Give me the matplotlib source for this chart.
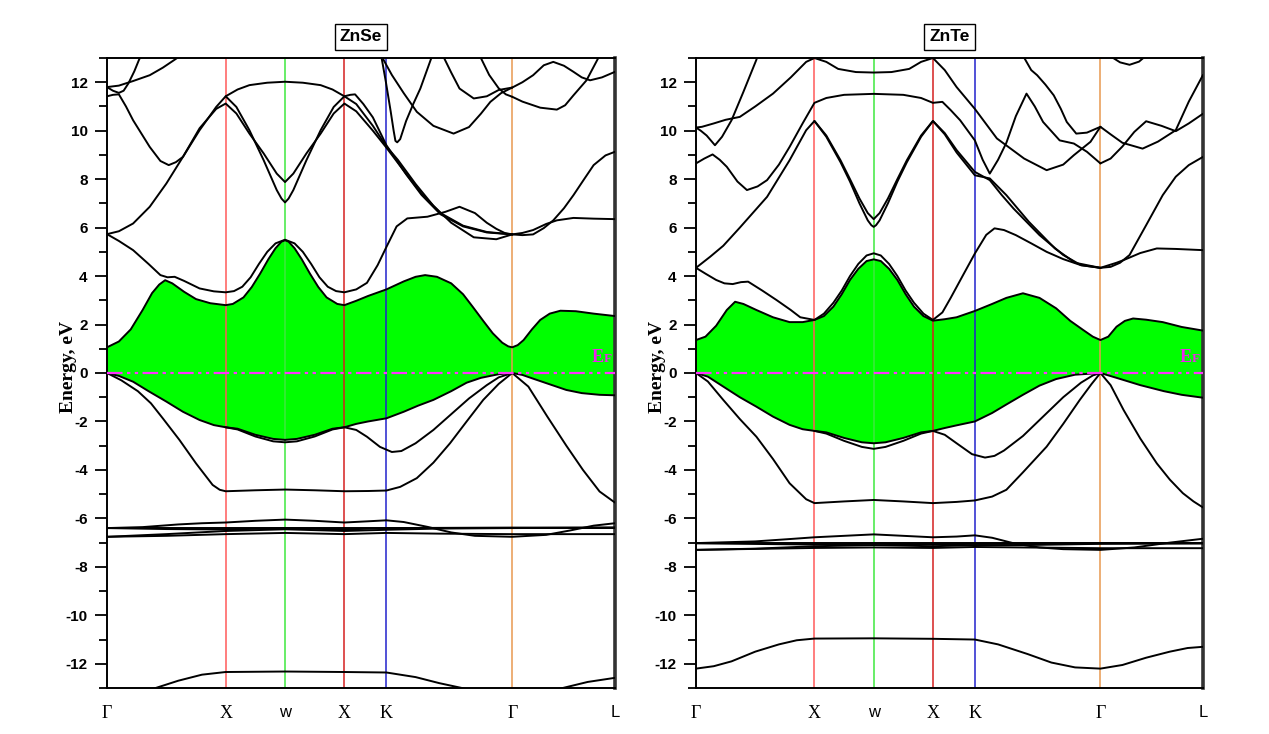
import numpy as np
import matplotlib
matplotlib.use("Agg")
import matplotlib.pyplot as plt

plt.rcParams["axes.unicode_minus"] = False

# ---------------- high-symmetry path ----------------
K_POS = [0.0, 1.0, 1.5, 2.0, 2.354, 3.414, 4.28]
K_LABELS = ["\u0393", "X", "w", "X", "K", "\u0393", "L"]
K_LABEL_FONT = ["Liberation Serif", "Liberation Serif", "Liberation Sans", "Liberation Serif",
                "Liberation Serif", "Liberation Serif", "Liberation Sans"]
VLINE_COLORS = ["#ff5a5a", "#3ee83e", "#d42020", "#2222cc", "#e89850"]  # X, W, X, K, Gamma
Y_TICKS = [-12, -10, -8, -6, -4, -2, 0, 2, 4, 6, 8, 10, 12]

# ---------------- ZnSe bands (k, E) ----------------
SE_VB1 = [(0,0),(0.1,-0.12),(0.22,-0.36),(0.35,-0.75),(0.5,-1.18),(0.64,-1.6),(0.78,-1.94),(0.9,-2.15),(1.0,-2.24),
          (1.1,-2.3),(1.25,-2.55),(1.4,-2.72),(1.5,-2.76),(1.6,-2.72),(1.75,-2.55),(1.9,-2.3),(2.0,-2.24),(2.1,-2.1),
          (2.2,-2.0),(2.354,-1.87),(2.5,-1.6),(2.62,-1.35),(2.75,-1.11),(2.9,-0.75),(3.03,-0.4),(3.15,-0.2),(3.3,-0.05),
          (3.414,0),(3.5,-0.08),(3.6,-0.25),(3.75,-0.5),(3.87,-0.7),(4.0,-0.83),(4.15,-0.9),(4.28,-0.92)]
SE_VB2 = [(1.0,-2.24),(1.1,-2.33),(1.25,-2.62),(1.4,-2.82),(1.5,-2.86),(1.6,-2.82),(1.75,-2.62),(1.9,-2.33),(2.0,-2.24),
          (2.1,-2.35),(2.19,-2.63),(2.3,-3.05),(2.4,-3.26),(2.48,-3.22),(2.6,-2.9),(2.75,-2.35),(2.9,-1.7),(3.05,-1.05),
          (3.2,-0.5),(3.3,-0.18),(3.414,0)]
SE_VB3 = [(0,0),(0.12,-0.3),(0.26,-0.75),(0.37,-1.25),(0.47,-1.87),(0.61,-2.76),(0.75,-3.73),(0.89,-4.62),(0.95,-4.82),
          (1.0,-4.88),(1.25,-4.84),(1.5,-4.81),(1.75,-4.84),(2.0,-4.88),(2.2,-4.87),(2.354,-4.85),(2.47,-4.7),(2.61,-4.34),
          (2.75,-3.7),(2.89,-2.9),(3.03,-2.0),(3.17,-1.11),(3.3,-0.45),(3.414,0),(3.55,-0.56),(3.71,-1.8),(3.87,-3.0),
          (4.01,-4.0),(4.15,-4.89),(4.28,-5.35)]
SE_CB1 = [(0,1.06),(0.1,1.3),(0.2,1.8),(0.3,2.6),(0.38,3.3),(0.44,3.65),(0.49,3.83),(0.55,3.7),(0.65,3.35),(0.75,3.05),
          (0.87,2.88),(1.0,2.8),(1.06,2.85),(1.15,3.12),(1.22,3.55),(1.29,4.1),(1.36,4.7),(1.42,5.15),(1.47,5.42),(1.5,5.48),
          (1.53,5.42),(1.58,5.15),(1.64,4.7),(1.71,4.1),(1.78,3.55),(1.85,3.12),(1.94,2.85),(2.0,2.8),(2.1,2.98),(2.2,3.18),
          (2.354,3.45),(2.5,3.78),(2.6,3.97),(2.68,4.04),(2.78,3.97),(2.9,3.7),(3.0,3.25),(3.08,2.74),(3.17,2.15),(3.25,1.64),
          (3.33,1.25),(3.38,1.1),(3.414,1.06),(3.46,1.15),(3.51,1.36),(3.58,1.8),(3.65,2.19),(3.73,2.45),(3.82,2.57),
          (3.95,2.55),(4.1,2.45),(4.28,2.35)]
SE_CB2 = [(0,5.73),(0.1,5.45),(0.22,5.07),(0.35,4.5),(0.45,4.04),(0.51,3.95),(0.57,3.97),(0.65,3.8),(0.78,3.49),(0.9,3.37),
          (1.0,3.33),(1.07,3.38),(1.14,3.56),(1.21,3.95),(1.28,4.5),(1.35,5.0),(1.42,5.35),(1.5,5.5),(1.58,5.35),(1.65,5.0),
          (1.72,4.5),(1.79,3.95),(1.86,3.56),(1.93,3.38),(2.0,3.33),(2.1,3.45),(2.19,3.72),(2.28,4.45),(2.354,5.2),(2.44,6.05),
          (2.53,6.38),(2.7,6.45),(2.85,6.65),(2.97,6.86),(3.1,6.6),(3.2,6.2),(3.28,5.95),(3.35,5.78),(3.414,5.72)]
SE_CB3 = [(3.414,5.72),(3.5,5.78),(3.59,5.9),(3.7,6.15),(3.79,6.3),(3.93,6.4),(4.1,6.37),(4.28,6.35)]
SE_CB4 = [(3.414,5.72),(3.5,5.69),(3.59,5.72),(3.68,5.98),(3.76,6.3),(3.85,6.8),(3.93,7.34),(4.02,8.0),(4.1,8.58),
          (4.2,8.98),(4.28,9.13)]
SE_G3 = [(0,5.73),(0.1,5.85),(0.22,6.17),(0.36,6.86),(0.5,7.82),(0.64,8.92),(0.78,10.1),(0.92,10.9),(1.0,11.12),
         (1.09,10.71),(1.2,9.88),(1.32,9.06),(1.43,8.23),(1.5,7.88),(1.57,8.23),(1.68,9.06),(1.8,9.88),(1.91,10.71),
         (2.0,11.12),(2.1,10.8),(2.24,10.0),(2.354,9.3),(2.5,8.35),(2.65,7.4),(2.81,6.6),(3.0,6.08),(3.2,5.82),(3.414,5.72)]
SE_G2 = [(0,11.42),(0.05,11.48),(0.1,11.5),(0.16,11.0),(0.22,10.43),(0.36,9.33),(0.45,8.75),(0.52,8.58),(0.58,8.7),
         (0.64,8.92),(0.78,10.02),(0.92,10.98),(1.0,11.42),(1.09,10.98),(1.2,10.02),(1.32,8.78),(1.43,7.55),(1.47,7.2),
         (1.5,7.04),(1.53,7.2),(1.57,7.55),(1.68,8.78),(1.8,10.02),(1.91,10.98),(2.0,11.42),(2.1,11.1),(2.24,10.2),
         (2.354,9.35),(2.45,8.8),(2.6,7.8),(2.75,6.9),(2.9,6.2),(3.09,5.6),(3.28,5.52),(3.414,5.72)]
SE_ARCH = [(1.0,11.42),(1.1,11.7),(1.2,11.88),(1.35,11.98),(1.5,12.02),(1.65,11.98),(1.8,11.88),(1.9,11.7),(2.0,11.42),
           (2.05,11.48),(2.09,11.5),(2.16,11.1),(2.24,10.55),(2.354,9.4),(2.52,8.2),(2.65,7.35),(2.81,6.55),(3.0,6.05),
           (3.2,5.8),(3.414,5.72)]
SE_G1A = [(0,11.8),(0.1,11.86),(0.22,12.05),(0.36,12.29),(0.47,12.6),(0.57,12.93),(0.62,13.1)]
SE_G1B = [(0,11.8),(0.05,11.65),(0.1,11.56),(0.14,11.65),(0.18,11.95),(0.23,12.45),(0.27,12.93),(0.3,13.2)]
SE_V = [(2.31,13.1),(2.35,12.0),(2.39,10.8),(2.415,10.0),(2.43,9.58),(2.445,9.52),(2.47,9.65),(2.52,10.4),(2.58,11.1),
        (2.64,11.74),(2.74,13.1)]
SE_U = [(2.31,13.1),(2.4,12.3),(2.5,11.55),(2.61,10.78),(2.75,10.2),(2.92,9.88),(3.05,10.15),(3.15,10.7),(3.23,11.19),
        (3.32,11.55),(3.414,11.78)]
SE_Q = [(2.83,13.1),(2.9,12.4),(2.97,11.74),(3.09,11.33),(3.2,11.42),(3.3,11.68),(3.414,11.78)]
SE_R = [(3.14,13.1),(3.22,12.3),(3.3,11.75),(3.36,11.5),(3.414,11.4)]
SE_S = [(3.414,11.78),(3.5,12.0),(3.59,12.29),(3.68,12.7),(3.76,12.84),(3.85,12.68),(3.93,12.43),(4.0,12.2),(4.07,12.08),
        (4.17,12.2),(4.28,12.43)]
SE_T = [(3.414,11.4),(3.5,11.2),(3.65,10.95),(3.79,10.87),(3.86,11.05),(3.93,11.46),(4.04,12.08),(4.15,13.1)]
SE_D1 = [(0,-6.4),(0.3,-6.36),(0.6,-6.25),(0.8,-6.2),(1.0,-6.17),(1.25,-6.1),(1.5,-6.05),(1.75,-6.1),(2.0,-6.17),
         (2.2,-6.12),(2.354,-6.08),(2.5,-6.15),(2.7,-6.35),(2.9,-6.58),(3.1,-6.72),(3.414,-6.76),(3.7,-6.68),(3.9,-6.5),
         (4.1,-6.3),(4.28,-6.2)]
SE_D2 = [(0,-6.38),(1.0,-6.38),(2.0,-6.38),(3.414,-6.38),(4.28,-6.38)]
SE_D3 = [(0,-6.76),(0.5,-6.72),(1.0,-6.65),(1.5,-6.6),(2.0,-6.65),(2.354,-6.6),(2.8,-6.63),(3.414,-6.65),(4.28,-6.65)]
SE_D4 = [(0,-6.76),(0.5,-6.65),(1.0,-6.52),(1.5,-6.45),(2.0,-6.52),(2.354,-6.47),(2.8,-6.42),(3.414,-6.4),(4.28,-6.38)]
SE_D5 = [(0,-6.4),(0.5,-6.44),(1.0,-6.46),(1.5,-6.4),(2.0,-6.46),(2.354,-6.4),(3.414,-6.38),(4.28,-6.38)]
SE_LOW = [(0,-13.6),(0.2,-13.4),(0.41,-13.0),(0.6,-12.7),(0.8,-12.45),(1.0,-12.34),(1.5,-12.32),(2.0,-12.34),
          (2.354,-12.36),(2.6,-12.55),(2.8,-12.8),(2.99,-13.0),(3.2,-13.3),(3.414,-13.4),(3.6,-13.3),(3.84,-13.0),
          (4.05,-12.75),(4.28,-12.58)]

# ---------------- ZnTe bands (k, E) ----------------
TE_VB1 = [(0,0),(0.1,-0.15),(0.23,-0.56),(0.37,-1.0),(0.51,-1.39),(0.65,-1.8),(0.79,-2.14),(0.9,-2.32),(1.0,-2.39),
          (1.1,-2.45),(1.25,-2.68),(1.4,-2.86),(1.5,-2.9),(1.6,-2.86),(1.75,-2.68),(1.9,-2.45),(2.0,-2.39),(2.1,-2.27),
          (2.2,-2.16),(2.354,-2.0),(2.5,-1.65),(2.62,-1.3),(2.76,-0.9),(2.9,-0.52),(3.04,-0.25),(3.2,-0.07),(3.414,0),
          (3.55,-0.2),(3.75,-0.5),(3.95,-0.75),(4.1,-0.9),(4.28,-1.02)]
TE_VB2 = [(1.0,-2.39),(1.1,-2.5),(1.25,-2.8),(1.4,-3.05),(1.5,-3.13),(1.6,-3.05),(1.75,-2.8),(1.9,-2.5),(2.0,-2.39),
          (2.1,-2.55),(2.2,-2.9),(2.33,-3.35),(2.44,-3.49),(2.52,-3.42),(2.6,-3.2),(2.76,-2.6),(2.93,-1.8),(3.1,-1.0),
          (3.25,-0.4),(3.35,-0.1),(3.414,0)]
TE_VB3 = [(0,0),(0.1,-0.35),(0.23,-1.11),(0.37,-1.9),(0.51,-2.63),(0.65,-3.55),(0.79,-4.55),(0.93,-5.21),(1.0,-5.37),
          (1.25,-5.3),(1.5,-5.24),(1.75,-5.3),(2.0,-5.37),(2.2,-5.32),(2.354,-5.26),(2.5,-5.1),(2.62,-4.82),(2.76,-4.1),
          (2.96,-3.04),(3.1,-2.1),(3.24,-1.11),(3.34,-0.45),(3.414,0),(3.5,-0.5),(3.61,-1.53),(3.75,-2.7),(3.89,-3.73),
          (4.0,-4.4),(4.11,-4.96),(4.2,-5.3),(4.28,-5.55)]
TE_CB1 = [(0,1.36),(0.08,1.5),(0.17,1.95),(0.26,2.6),(0.33,2.94),(0.4,2.85),(0.51,2.6),(0.65,2.3),(0.79,2.1),(0.9,2.1),
          (1.0,2.19),(1.08,2.35),(1.16,2.74),(1.23,3.25),(1.3,3.84),(1.37,4.3),(1.44,4.62),(1.5,4.69),(1.56,4.62),
          (1.63,4.3),(1.7,3.84),(1.77,3.25),(1.84,2.74),(1.92,2.35),(2.0,2.16),(2.1,2.22),(2.2,2.3),(2.354,2.56),
          (2.5,2.85),(2.62,3.1),(2.76,3.29),(2.9,3.1),(3.04,2.67),(3.16,2.15),(3.27,1.77),(3.35,1.5),(3.414,1.36),
          (3.48,1.5),(3.55,1.91),(3.62,2.15),(3.69,2.25),(3.8,2.2),(3.94,2.1),(4.1,1.9),(4.28,1.75)]
TE_CB2 = [(0,4.34),(0.08,4.1),(0.17,3.84),(0.24,3.7),(0.31,3.67),(0.38,3.75),(0.44,3.77),(0.56,3.4),(0.68,3.01),
          (0.8,2.6),(0.88,2.3),(1.0,2.19),(1.08,2.45),(1.16,2.9),(1.23,3.4),(1.3,4.0),(1.37,4.5),(1.44,4.85),(1.5,4.94),
          (1.56,4.85),(1.63,4.5),(1.7,4.0),(1.77,3.4),(1.84,2.9),(1.92,2.45),(2.0,2.19),(2.08,2.5),(2.15,3.1),(2.25,4.0),
          (2.354,4.93),(2.45,5.7),(2.52,5.97),(2.6,5.9),(2.7,5.69),(2.83,5.35),(2.96,5.0),(3.1,4.7),(3.25,4.45),(3.414,4.34)]
TE_CB3 = [(3.414,4.34),(3.5,4.38),(3.58,4.55),(3.66,4.87),(3.8,6.1),(3.94,7.34),(4.05,8.1),(4.16,8.58),(4.28,8.92)]
TE_CB4 = [(3.414,4.34),(3.55,4.55),(3.61,4.66),(3.75,4.95),(3.89,5.14),(4.05,5.12),(4.28,5.07)]
TE_LR = [(0,4.34),(0.12,4.8),(0.23,5.25),(0.37,6.0),(0.6,7.27),(0.79,8.78),(0.93,10.02),(1.0,10.4),(1.1,9.8),(1.22,8.78),
         (1.3,8.0),(1.38,7.2),(1.45,6.6),(1.5,6.35),(1.55,6.6),(1.62,7.2),(1.7,8.0),(1.78,8.78),(1.9,9.8),(2.0,10.4),
         (2.1,9.9),(2.2,9.2),(2.354,8.3),(2.48,7.96),(2.58,7.35),(2.68,6.79),(2.9,5.69),(3.1,4.87),(3.25,4.45),(3.414,4.34)]
TE_PAIR = [(1.0,10.4),(1.1,9.75),(1.22,8.7),(1.3,7.9),(1.38,7.0),(1.45,6.3),(1.48,6.1),(1.5,6.03),(1.52,6.1),(1.55,6.3),
           (1.62,7.0),(1.7,7.9),(1.78,8.7),(1.9,9.75),(2.0,10.4),(2.1,9.85),(2.2,9.1),(2.354,8.16),(2.48,8.03),(2.62,7.34),
           (2.81,6.24),(3.03,5.14),(3.2,4.55),(3.414,4.34)]
TE_U3 = [(0,8.65),(0.07,8.85),(0.14,9.02),(0.2,8.8),(0.26,8.51),(0.35,7.9),(0.43,7.55),(0.52,7.7),(0.6,7.96),(0.7,8.6),
         (0.79,9.33),(0.9,10.3),(1.0,11.15),(1.1,11.35),(1.25,11.48),(1.5,11.52),(1.75,11.48),(1.9,11.35),(2.0,11.15),
         (2.08,11.19),(2.15,10.85),(2.23,10.43),(2.354,9.6),(2.42,8.8),(2.48,8.23),(2.55,8.8),(2.62,9.5),(2.7,10.6),
         (2.79,11.53),(2.86,11.0),(2.93,10.36),(3.07,9.6),(3.19,9.47),(3.3,9.13),(3.414,8.65)]
TE_U1 = [(0,10.13),(0.05,10.16),(0.15,10.3),(0.25,10.45),(0.37,10.57),(0.5,11.0),(0.65,11.53),(0.8,12.2),(0.93,12.84),
         (1.0,13.0),(1.1,12.84),(1.2,12.55),(1.35,12.42),(1.5,12.4),(1.65,12.42),(1.8,12.55),(1.9,12.84),(2.0,13.0),
         (2.1,12.5),(2.2,11.8),(2.354,10.9),(2.54,9.68),(2.77,8.85),(2.96,8.37),(3.1,8.6),(3.19,8.99),(3.33,9.54),
         (3.414,10.16)]
TE_U2 = [(0,10.13),(0.04,10.0),(0.09,9.8),(0.16,9.4),(0.22,9.75),(0.3,10.43),(0.4,11.6),(0.51,12.93),(0.52,13.1)]
TE_L1 = [(2.76,13.1),(2.83,12.5),(2.88,12.29),(2.95,11.9),(3.02,11.46),(3.08,10.9),(3.13,10.36),(3.21,9.88),(3.3,9.92),
         (3.414,10.16)]
TE_R1 = [(3.414,10.16),(3.5,9.85),(3.6,9.5),(3.77,9.26),(3.9,9.55),(4.05,10.02),(4.16,11.2),(4.28,12.3)]
TE_R2 = [(3.414,8.65),(3.5,8.85),(3.6,9.35),(3.7,9.95),(3.8,10.39),(3.93,10.2),(4.05,9.98),(4.16,10.3),(4.28,10.7)]
TE_TOPU = [(3.49,13.1),(3.58,12.82),(3.66,12.72),(3.74,12.85),(3.8,13.1)]
TE_D1 = [(0,-7.02),(0.5,-6.95),(0.8,-6.85),(1.0,-6.78),(1.25,-6.72),(1.5,-6.66),(1.75,-6.72),(2.0,-6.78),(2.2,-6.75),
         (2.354,-6.7),(2.5,-6.8),(2.7,-7.05),(2.9,-7.2),(3.1,-7.27),(3.414,-7.3),(3.7,-7.2),(4.0,-7.0),(4.28,-6.84)]
TE_D2 = [(0,-7.03),(1.0,-7.03),(2.0,-7.03),(3.414,-7.03),(4.28,-7.03)]
TE_D3 = [(0,-7.3),(0.5,-7.25),(1.0,-7.15),(1.5,-7.1),(2.0,-7.15),(2.354,-7.1),(2.8,-7.1),(3.414,-7.05),(4.28,-7.03)]
TE_D4 = [(0,-7.3),(1.0,-7.22),(1.5,-7.2),(2.0,-7.22),(2.354,-7.18),(3.414,-7.23),(4.28,-7.23)]
TE_D5 = [(0,-7.03),(1.0,-7.08),(1.5,-7.05),(2.0,-7.08),(2.354,-7.05),(3.414,-7.03),(4.28,-7.03)]
TE_LOW = [(0,-12.2),(0.15,-12.1),(0.3,-11.9),(0.5,-11.5),(0.7,-11.2),(0.85,-11.03),(1.0,-10.96),(1.5,-10.95),
          (2.0,-10.97),(2.354,-11.0),(2.55,-11.2),(2.8,-11.6),(3.0,-11.95),(3.2,-12.15),(3.414,-12.2),(3.6,-12.05),
          (3.8,-11.75),(4.0,-11.5),(4.15,-11.35),(4.28,-11.3)]

SE_BANDS = [SE_VB1, SE_VB2, SE_VB3, SE_CB1, SE_CB2, SE_CB3, SE_CB4, SE_G3, SE_G2, SE_ARCH, SE_G1A, SE_G1B,
            SE_V, SE_U, SE_Q, SE_R, SE_S, SE_T, SE_D1, SE_D2, SE_D3, SE_D4, SE_D5, SE_LOW]
TE_BANDS = [TE_VB1, TE_VB2, TE_VB3, TE_CB1, TE_CB2, TE_CB3, TE_CB4, TE_LR, TE_PAIR, TE_U3, TE_U1, TE_U2, TE_L1,
            TE_R1, TE_R2, TE_TOPU, TE_D1, TE_D2, TE_D3, TE_D4, TE_D5, TE_LOW]

PANELS = [("ZnSe", SE_BANDS, SE_CB1, SE_VB1, [107/1269, 1-688/734, 508/1269, 630/734]),
          ("ZnTe", TE_BANDS, TE_CB1, TE_VB1, [696/1269, 1-688/734, 507/1269, 630/734])]

fig = plt.figure(figsize=(12.69, 7.34), dpi=100)

for title, bands, top, bot, rect in PANELS:
    ax = fig.add_axes(rect)
    ax.set_xlim(K_POS[0], K_POS[-1])
    ax.set_ylim(-13, 13)

    # green gap fill between top valence band and lowest conduction band
    kt, et = zip(*top)
    kb, eb = zip(*bot)
    ax.fill(list(kt) + list(kb)[::-1], list(et) + list(eb)[::-1], color="#00ff00", lw=0, zorder=1)

    for kp, c in zip(K_POS[1:-1], VLINE_COLORS):
        ax.axvline(kp, color=c, lw=1.1, zorder=2)

    for b in bands:
        k, e = zip(*b)
        ax.plot(k, e, color="black", lw=1.4, zorder=3, solid_joinstyle="round", solid_capstyle="round")

    ax.axhline(0, color="#ff33ff", lw=1.6, ls=(0, (7, 2, 1.5, 2, 1.5, 2)), zorder=4)

    ax.text(4.085, 0.45, "E", color="#ee22ee", fontsize=13, fontweight="bold",
            family="Liberation Serif", ha="left", va="baseline", zorder=5)
    ax.annotate("F", xy=(4.085, 0.45), xytext=(8.8, 0), textcoords="offset points", color="#ee22ee",
                fontsize=9.5, fontweight="bold", family="Liberation Serif", ha="left", va="baseline", zorder=5)

    ax.set_yticks(Y_TICKS)
    ax.set_yticks(np.arange(-13, 14, 1), minor=True)
    ax.tick_params(axis="y", which="major", direction="out", length=9, width=1.3, pad=5, labelsize=11)
    ax.tick_params(axis="y", which="minor", direction="out", length=5.5, width=1.3)
    for lab in ax.get_yticklabels():
        lab.set_fontweight("bold")
        lab.set_family("Liberation Sans")

    ax.set_xticks(K_POS)
    ax.set_xticklabels(K_LABELS)
    ax.tick_params(axis="x", which="both", length=0, pad=12)
    for lab, fam in zip(ax.get_xticklabels(), K_LABEL_FONT):
        lab.set_family(fam)
        lab.set_fontsize(13 if "Serif" in fam else 12)

    for s in ["left", "bottom", "top"]:
        ax.spines[s].set_linewidth(1.4)
        ax.spines[s].set_color("black")
    ax.spines["right"].set_linewidth(2.6)
    ax.spines["right"].set_color("#333333")

    ax.set_ylabel("Energy, eV", fontsize=14, fontweight="bold", family="Liberation Serif")
    ax.yaxis.set_label_coords(-0.06, 0.51)

    ax.set_title(title, fontsize=12.5, fontweight="bold", family="Liberation Sans", pad=12,
                 bbox=dict(boxstyle="square,pad=0.3", facecolor="white", edgecolor="black", lw=1.0))

fig.savefig("out.png", dpi=100)
